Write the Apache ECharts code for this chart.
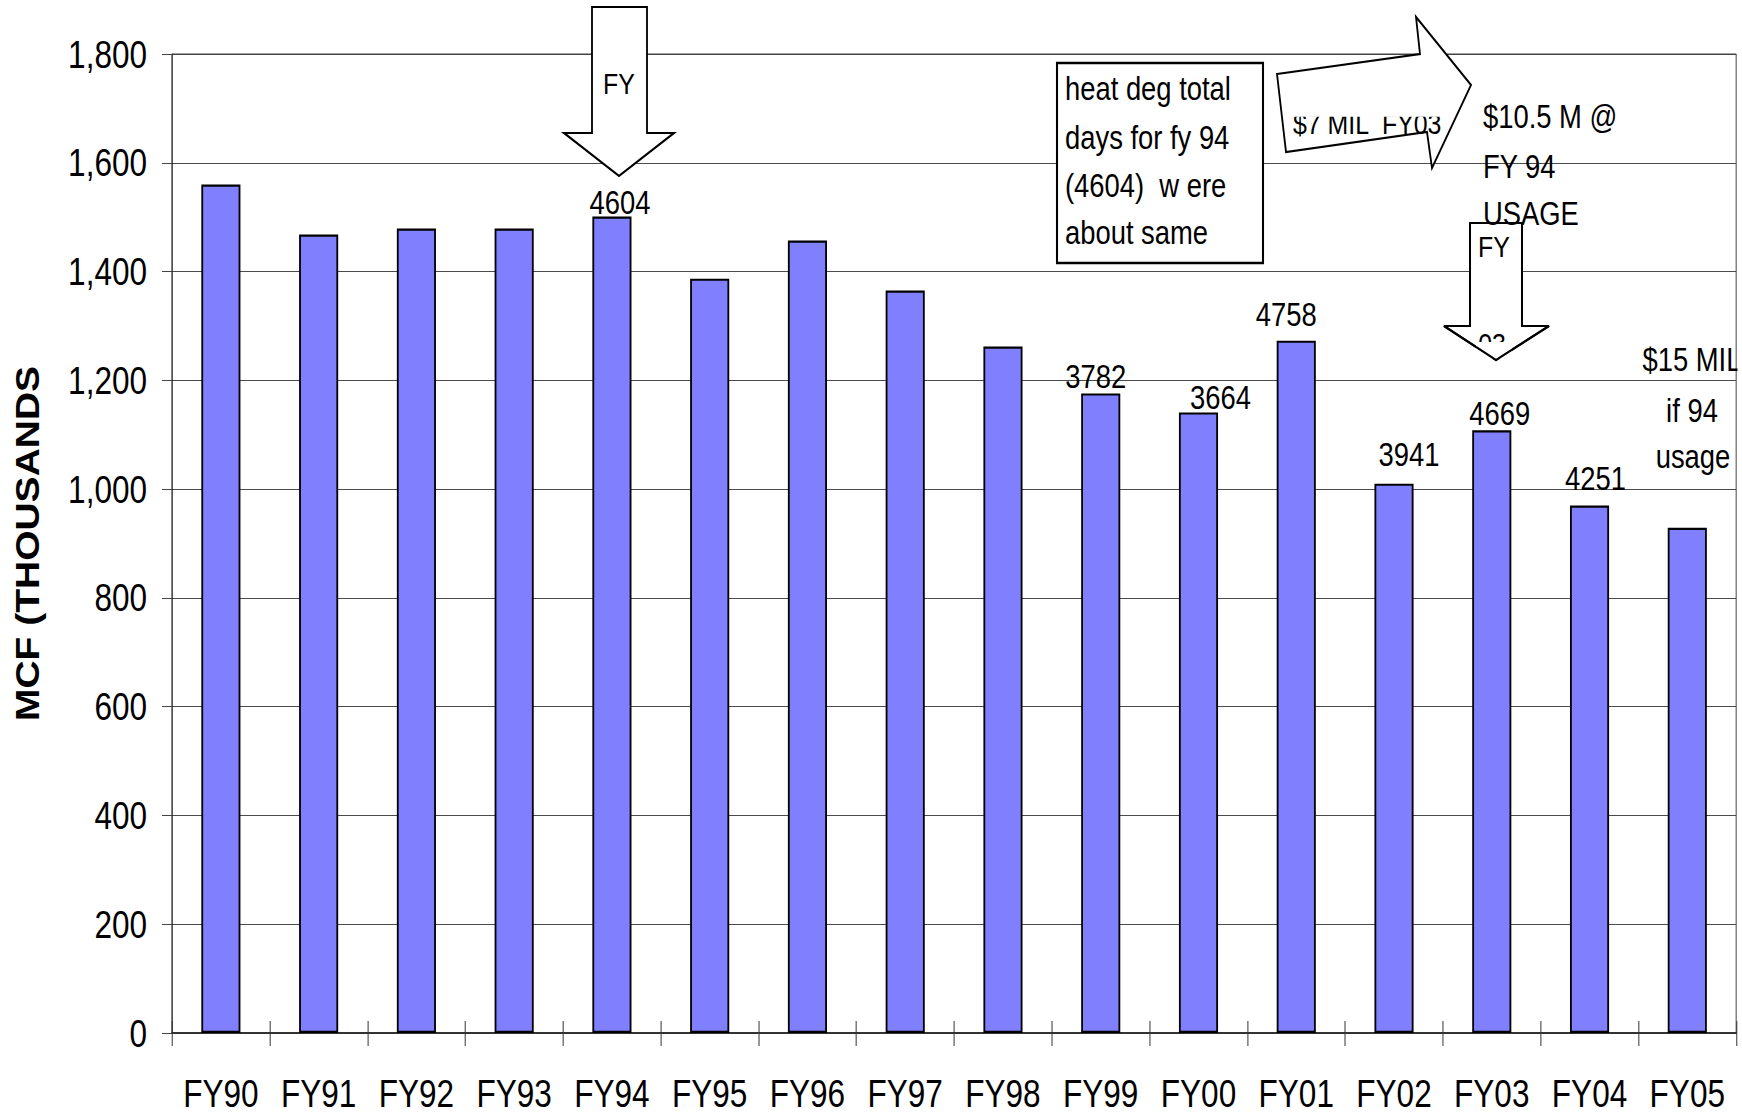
<!DOCTYPE html>
<html>
<head>
<meta charset="utf-8">
<script src="https://cdn.jsdelivr.net/npm/echarts@6/dist/echarts.min.js"></script>
<style>
html,body{margin:0;padding:0;background:#fff;overflow:hidden;width:1742px;height:1114px;}
#chart{width:2099px;height:1114px;transform:scaleX(0.83);transform-origin:0 0;}
</style>
</head>
<body>
<div id="chart"></div>
<script>
// ---- data ----
const categories = ['FY90','FY91','FY92','FY93','FY94','FY95','FY96','FY97','FY98','FY99','FY00','FY01','FY02','FY03','FY04','FY05'];
const usageMcfThousands = [1560,1468,1479,1479,1501,1387,1457,1365,1262,1176,1141,1273,1010,1108,970,929];
const heatDegreeDays = [null,null,null,null,4604,null,null,null,null,3782,3664,4758,3941,4669,4251,null];
const yAxisMin = 0, yAxisMax = 1800, yAxisStep = 200;
const yAxisTitle = 'MCF (THOUSANDS';

// ---- styling ----
// the original chart is horizontally compressed: draw at wider width, squeeze with CSS
const SX = 0.83;
const FONT = '"Liberation Sans",Arial,sans-serif';
// label nudges in screen px [dx, dy]
const labelNudge = [null,null,null,null,[8,2],null,null,null,null,[-5,0],[22,2],[-10,-10],[15,-13],[8,0],[6,-10],null];

const seriesData = usageMcfThousands.map((v, i) => {
  const hdd = heatDegreeDays[i];
  if (hdd == null) return { value: v, label: { show: false } };
  const n = labelNudge[i] || [0, 0];
  return { value: v, label: { show: true, formatter: String(hdd), offset: [n[0] / SX, n[1]] } };
});

const px = x => x / SX;
function txt(text, x, y, opts) {
  opts = opts || {};
  return {
    type: 'text', z: opts.z || 110, silent: true,
    style: {
      text: text, x: px(x), y: y,
      fontSize: opts.size || 33, fontFamily: FONT, fill: '#000',
      align: opts.align || 'left', verticalAlign: 'middle',
      textAlign: opts.align || 'left', textVerticalAlign: 'middle'
    }
  };
}
function poly(points, z, fill, stroke) {
  return {
    type: 'polygon', z: z, silent: true,
    shape: { points: points.map(p => [px(p[0]), p[1]]) },
    style: { fill: fill, stroke: stroke, lineWidth: 2.2, lineJoin: 'miter' }
  };
}
function rect(x, y, w, h, z, style) {
  return { type: 'rect', z: z, silent: true, shape: { x: px(x), y: y, width: w / SX, height: h },
    style: style || { fill: '#fff', stroke: null } };
}

const arrowFY94 = [[592,7],[647,7],[647,133],[674,133],[619,176],[564,133],[592,133]];
const arrowFY03 = [[1470,223],[1522,223],[1522,326],[1549,326],[1496,360],[1444,326],[1470,326]];
const arrowRight = [[1277,74],[1420,54],[1416,17],[1471,85],[1432,168],[1427,132],[1286,152]];

const graphics = [
  // FY94 down arrow
  poly(arrowFY94, 100, '#fff', '#000'),
  txt('FY', 619, 84, { size: 30, align: 'center', z: 101 }),
  // text box
  rect(1057, 63, 206, 200, 100, { fill: '#fff', stroke: '#000', lineWidth: 2.5 }),
  txt('heat deg total', 1065, 89, { z: 101 }),
  txt('days for fy 94', 1065, 138, { z: 101 }),
  txt('(4604)  w ere', 1065, 186, { z: 101 }),
  txt('about same', 1065, 233, { z: 101 }),
  // right arrow with clipped text
  poly(arrowRight, 100, '#fff', null),
  txt('$7 MIL  FY03', 1293, 123.6, { size: 30, z: 101 }),
  rect(1288, 92, 160, 24.7, 102),
  poly(arrowRight, 103, null, '#000'),
  // FY03 down arrow
  poly(arrowFY03, 100, '#fff', '#000'),
  txt('FY', 1494, 247, { size: 30, align: 'center', z: 101 }),
  txt('03', 1492, 344, { size: 30, align: 'center', z: 101 }),
  rect(1476, 342, 36, 17, 102),
  poly(arrowFY03, 103, null, '#000'),
  // $10.5 M note
  txt('$10.5 M @', 1483, 117, { z: 110 }),
  txt('FY 94', 1483, 167, { z: 110 }),
  txt('USAGE', 1483, 214, { z: 110 }),
  // $15 MIL note
  txt('$15 MIL', 1692, 360, { align: 'center', z: 110 }),
  txt('if 94', 1692, 411, { align: 'center', z: 110 }),
  txt('usage', 1693, 457, { align: 'center', z: 110 }),
  rect(1737.5, 330, 5, 50, 111)
];

const chart = echarts.init(document.getElementById('chart'), null, { renderer: 'svg', width: 2099, height: 1114 });
chart.setOption({
  animation: false,
  backgroundColor: '#fff',
  grid: { left: 172 / SX, right: 6 / SX, top: 54, bottom: 81, show: true, borderColor: '#333', borderWidth: 1, backgroundColor: 'transparent' },
  xAxis: [
    {
      type: 'category', data: categories, position: 'bottom',
      axisLine: { show: true, lineStyle: { color: '#333', width: 2 } },
      axisTick: { show: true, length: 13, inside: false, lineStyle: { color: '#333', width: 1.2 } },
      axisLabel: { color: '#000', fontFamily: FONT, fontSize: 38, lineHeight: 38, margin: 41, interval: 0 },
      splitLine: { show: false }
    },
    {
      type: 'category', data: categories, position: 'bottom', offset: 0,
      axisLine: { show: false },
      axisTick: { show: true, length: 12, inside: true, lineStyle: { color: '#333', width: 1.2 } },
      axisLabel: { show: false },
      splitLine: { show: false }
    }
  ],
  yAxis: {
    type: 'value', min: yAxisMin, max: yAxisMax, interval: yAxisStep,
    name: yAxisTitle, nameLocation: 'middle', nameGap: 154,
    nameTextStyle: { fontFamily: FONT, fontWeight: 'bold', fontSize: 39, color: '#000', lineHeight: 39 },
    axisLine: { show: true, lineStyle: { color: '#333', width: 1.2 } },
    axisTick: { show: true, length: 10 / SX, lineStyle: { color: '#333', width: 1 } },
    axisLabel: { color: '#000', fontFamily: FONT, fontSize: 38, margin: 25 / SX,
      formatter: v => v.toLocaleString('en-US') },
    splitLine: { show: true, lineStyle: { color: '#3a3a3a', width: 1 } }
  },
  series: [{
    type: 'bar',
    data: seriesData,
    barWidth: '40%',
    itemStyle: { color: '#8080FF', borderColor: '#000', borderWidth: 2.2 },
    label: { position: 'top', distance: 0, color: '#000', fontFamily: FONT, fontSize: 33, lineHeight: 33 },
    z: 2
  }],
  graphic: graphics
});
</script>
</body>
</html>
